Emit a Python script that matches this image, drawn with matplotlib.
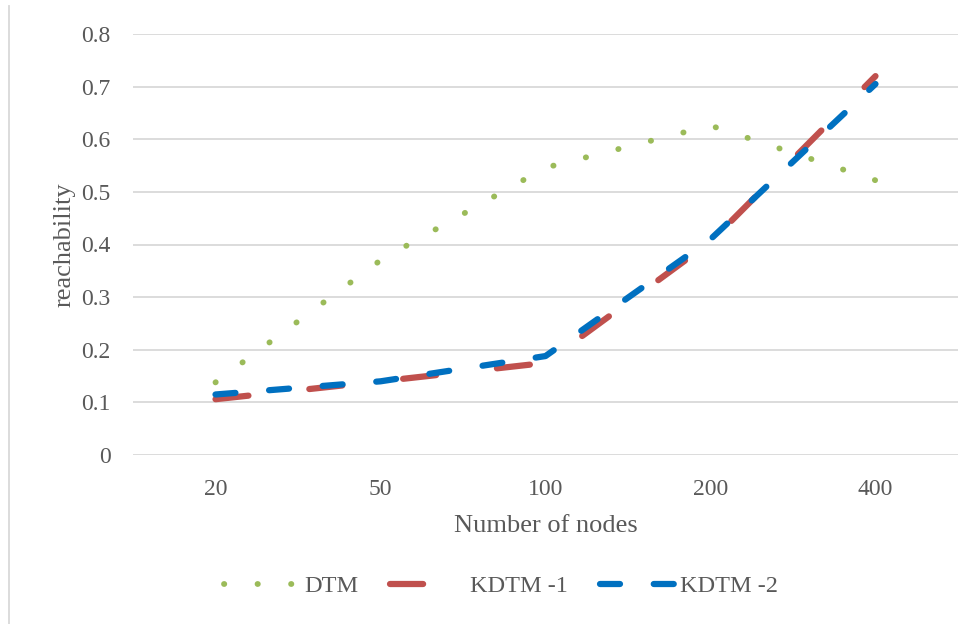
import matplotlib
matplotlib.use("Agg")
import matplotlib.pyplot as plt
from matplotlib.lines import Line2D

# data
node_counts = ["20", "50", "100", "200", "400"]
dtm = [0.138, 0.370, 0.546, 0.626, 0.522]
kdtm_1 = [0.106, 0.140, 0.175, 0.405, 0.720]
kdtm_2 = [0.115, 0.140, 0.188, 0.410, 0.705]
y_ticks = [0, 0.1, 0.2, 0.3, 0.4, 0.5, 0.6, 0.7, 0.8]
y_tick_labels = ["0", "0.1", "0.2", "0.3", "0.4", "0.5", "0.6", "0.7", "0.8"]

plt.rcParams['font.family'] = ['Liberation Serif', 'DejaVu Serif']

text_gray = '#595959'
grid_gray = '#d9d9d9'
green, red, blue = '#9bbb59', '#c0504d', '#0070c0'

# dash patterns (multiples of line width): round dot, long dash, dash
dot_style = dict(lw=4.2, dashes=(0.05, 5.7), dash_capstyle='round')
long_dash = dict(lw=4.5, dashes=(5.3, 9.8), dash_capstyle='round')
short_dash = dict(lw=4.5, dashes=(3.2, 5.4), dash_capstyle='round')

fig = plt.figure(figsize=(9.77, 6.24), dpi=100)
ax = fig.add_axes([133 / 977, 1 - 455 / 624, 825 / 977, 421 / 624])

x = [i + 0.5 for i in range(len(node_counts))]

ax.plot(x, dtm, color=green, label='DTM', zorder=3, **dot_style)
ax.plot(x, kdtm_1, color=red, label='KDTM -1', zorder=4, **long_dash)
ax.plot(x, kdtm_2, color=blue, label='KDTM -2', zorder=5, **short_dash)

ax.set_xlim(0, len(node_counts))
ax.set_ylim(0, 0.8)
ax.set_xticks(x)
ax.set_xticklabels(node_counts)
ax.set_yticks(y_ticks)
ax.set_yticklabels(y_tick_labels)

ax.grid(axis='y', color=grid_gray, lw=1.3)
ax.set_axisbelow(True)
for s in ax.spines.values():
    s.set_visible(False)
ax.tick_params(axis='both', length=0, labelsize=17, labelcolor=text_gray)
ax.tick_params(axis='y', pad=16)
ax.tick_params(axis='x', pad=17)

ax.set_xlabel('Number of nodes', fontsize=19, color=text_gray, labelpad=11)
ax.set_ylabel('reachability', fontsize=19, color=text_gray, labelpad=4)

handles = [
    Line2D([], [], color=green, **dot_style),
    Line2D([], [], color=red, **long_dash),
    Line2D([], [], color=blue, **short_dash),
]
leg = fig.legend(handles, ['DTM', 'KDTM -1', 'KDTM -2'], loc='center',
                 bbox_to_anchor=(0.513, 1 - 586 / 624), ncol=3, frameon=False,
                 fontsize=17.5, handlelength=3.2, handletextpad=0.1,
                 columnspacing=1.3)
for t in leg.get_texts():
    t.set_color(text_gray)

# thin frame line on the left edge, as in the reference
fig.add_artist(Line2D([9 / 977, 9 / 977], [0, 1 - 6 / 624],
                      transform=fig.transFigure, color=grid_gray, lw=1.3))

fig.savefig('out.png', dpi=100)
